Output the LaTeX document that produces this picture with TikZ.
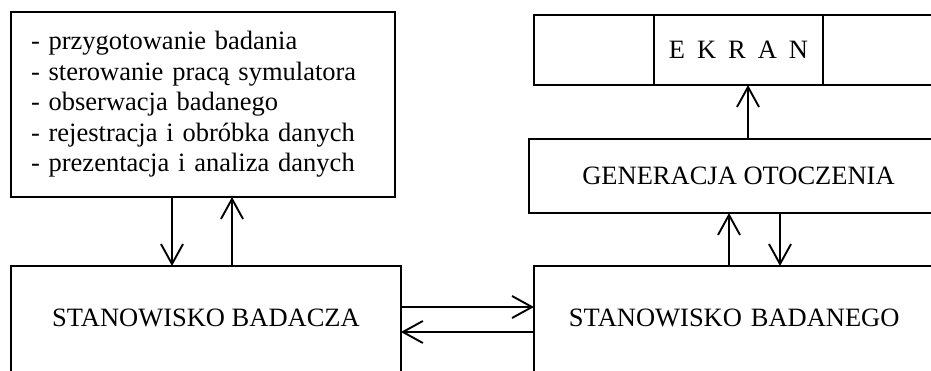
\documentclass[tikz,border=0pt]{standalone}
\usepackage{fontspec}
\setmainfont{Liberation Serif}
\usetikzlibrary{arrows.meta}
\begin{document}
\begin{tikzpicture}[x=1pt,y=-1pt, line width=1.9pt,
  box/.style={draw, rectangle, inner sep=0pt, outer sep=0pt},
  txt/.style={font=\fontsize{26.5}{30.5}\selectfont},
  arr/.style={-{Straight Barb[length=20pt,width=22pt]}},
]
\useasboundingbox (0,0) rectangle (931,370);
\clip (0,0) rectangle (931,370);

% task list box
\node[box, txt, anchor=north west, minimum width=384pt, minimum height=185pt,
      text width=344pt, inner xsep=20pt, align=left] (zad) at (11,12)
  {- przygotowanie badania\\- sterowanie pracą symulatora\\- obserwacja badanego\\- rejestracja i obróbka danych\\- prezentacja i analiza danych};

% screen
\node[box, anchor=north west, minimum width=120pt, minimum height=70pt] (ekranL) at (534,15) {};
\node[box, txt, anchor=north west, minimum width=169pt, minimum height=70pt] (ekran) at (654,15)
  {E\hspace{12pt}K\hspace{12pt}R\hspace{12pt}A\hspace{12pt}N};
\node[box, anchor=north west, minimum width=140pt, minimum height=70pt] (ekranR) at (823,15) {};

% environment generation
\node[box, txt, anchor=north west, minimum width=419pt, minimum height=74pt] (gen) at (529,139) {GENERACJA OTOCZENIA};

% researcher station (open at bottom)
\node[txt, anchor=north west, minimum width=388pt, minimum height=102pt, inner sep=0pt] (bdc) at (11,266) {STANOWISKO BADACZA};
\draw ([yshift=-20pt]bdc.south west) -- (bdc.north west) -- (bdc.north east) -- ([yshift=-20pt]bdc.south east);

% subject station (open at bottom and right)
\node[txt, anchor=north west, minimum width=420pt, minimum height=102pt, text width=352pt,
      inner xsep=34pt, inner ysep=0pt, align=left] (bdn) at (534,266) {STANOWISKO BADANEGO};
\draw ([yshift=-20pt]bdn.south west) -- (bdn.north west) -- (bdn.north east);

% connectors
\draw[arr] ([xshift=161pt]zad.south west) -- ([xshift=161pt]bdc.north west);
\draw[arr] ([xshift=221pt]bdc.north west) -- ([xshift=221pt]zad.south west);
\draw[arr] ([yshift=-41pt]bdc.north east) -- ([yshift=-41pt]bdn.north west);
\draw[arr] ([yshift=-66pt]bdn.north west) -- ([yshift=-66pt]bdc.north east);
\draw[arr] ([xshift=195pt]bdn.north west) -- ([xshift=200pt]gen.south west);
\draw[arr] ([xshift=251pt]gen.south west) -- ([xshift=246pt]bdn.north west);
\draw[arr] ([xshift=219pt]gen.north west) -- ([xshift=94pt]ekran.south west);
\end{tikzpicture}
\end{document}
